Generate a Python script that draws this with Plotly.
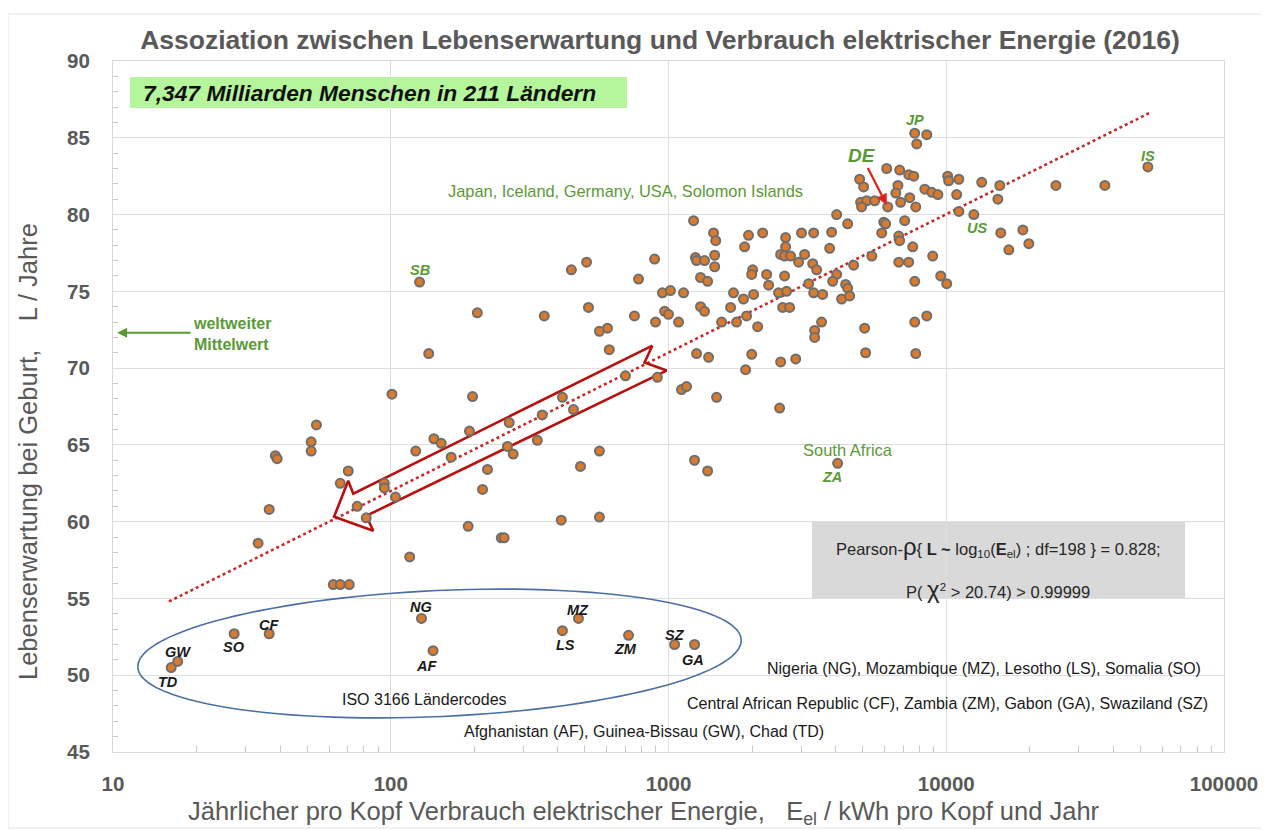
import numpy as np
import plotly.graph_objects as go

# ---------------- data ----------------
africa_codes = ["TD", "GW", "SO", "CF", "NG", "AF", "LS", "MZ", "ZM", "SZ", "GA"]
africa_energy = [16.2, 17.1, 27.3, 36.5, 129, 142, 415, 474, 718, 1052, 1241]
africa_life = [50.5, 50.9, 52.7, 52.7, 53.7, 51.6, 52.9, 53.7, 52.6, 52.0, 52.0]

highlight_codes = ["JP", "IS", "US", "SB", "ZA", "DE"]
highlight_energy = [7700, 53200, 12570, 127, 4064, 6154]
highlight_life = [85.3, 83.1, 80.0, 75.6, 63.8, 80.5]

other_energy = [
    8511, 7830, 6104, 6795, 7326, 7638, 4877, 5041, 6698, 6583,
    10120, 10200, 11100, 13420, 15590, 15340, 24820, 37250, 8371, 8868,
    9332, 10900, 4917, 5168, 5524, 4957, 6852, 7386, 7766, 11100,
    4031, 4416, 5955, 6053, 7085, 5858, 6746, 6795, 7574, 8940,
    15710, 18870, 19830, 16800, 1231, 1453, 1479, 1941, 2183, 2640,
    3013, 3331, 3866, 1879, 2640, 3804, 891, 1250, 1262, 1348,
    1466, 1466, 2534, 2618, 2752, 3091, 2941, 5396, 6746, 7326,
    4641, 3306, 3415, 2009, 1993, 2256, 2618, 4031, 3899, 780,
    1304, 1383, 2294, 3197, 4343, 4416, 9552, 10040, 7701, 951,
    1016, 1133, 1714, 1862, 2025, 2490, 2662, 3331, 3589, 4201,
    4489, 754, 898, 968, 1000, 1087, 1304, 1348, 1673, 1910,
    1758, 1553, 2094, 2577, 2729, 3359, 3359, 3557, 5083, 7701,
    8511, 603, 564, 612, 1262, 1394, 1993, 1895, 2534, 2871,
    5125, 7766, 700, 912, 1114, 1161, 1490, 2512, 447, 507,
    205, 357, 515, 137, 101, 197, 415, 351, 455, 267,
    192, 143, 152, 337, 123, 165, 54, 51.7, 51.7, 38.4,
    39.0, 263, 276, 223, 214, 564, 482, 70.3, 65.8, 94.8,
    94.8, 104, 75.7, 81.6, 36.5, 33.3, 190, 250, 256, 411,
    564, 117, 62.1, 65.8, 70.9, 1241, 1383,
]
other_life = [
    85.2, 84.6, 83.0, 82.9, 82.6, 82.5, 82.3, 81.8, 81.9, 81.4,
    82.5, 82.2, 82.3, 82.1, 81.9, 81.0, 81.9, 81.9, 81.65, 81.45,
    81.3, 81.3, 80.8, 80.9, 80.9, 80.5, 80.8, 81.1, 80.5, 80.2,
    80.0, 79.4, 79.5, 79.4, 79.6, 78.8, 78.6, 78.3, 77.9, 77.3,
    78.8, 79.0, 78.1, 77.7, 79.6, 78.8, 78.3, 78.65, 78.8, 78.5,
    78.8, 78.8, 78.85, 77.9, 77.9, 77.8, 77.1, 77.2, 77.0, 77.0,
    77.35, 76.6, 77.4, 77.3, 77.3, 77.4, 76.9, 77.3, 76.9, 76.9,
    76.7, 76.8, 76.4, 76.4, 76.1, 76.1, 76.0, 76.1, 75.65, 75.8,
    75.9, 75.65, 75.4, 75.5, 75.45, 75.2, 76.0, 75.5, 75.65, 74.9,
    75.05, 74.9, 74.9, 74.5, 74.8, 74.9, 75.0, 74.9, 74.8, 74.5,
    74.7, 73.4, 73.0, 73.7, 73.5, 73.0, 74.0, 73.7, 73.95, 73.4,
    73.0, 73.0, 72.7, 73.95, 73.95, 72.45, 72.0, 73.0, 72.6, 73.0,
    73.4, 72.6, 72.4, 71.2, 70.95, 70.7, 70.9, 69.9, 70.4, 70.6,
    71.0, 70.95, 69.5, 69.4, 68.6, 68.8, 68.1, 67.4, 76.4, 76.9,
    73.6, 73.4, 73.95, 70.95, 68.3, 68.15, 68.1, 66.95, 67.3, 66.45,
    65.9, 65.4, 65.1, 65.3, 64.6, 64.2, 66.3, 65.2, 64.6, 64.3,
    64.1, 64.9, 64.4, 63.4, 62.1, 64.6, 63.6, 63.3, 62.5, 62.5,
    62.2, 61.6, 61.0, 60.25, 60.8, 58.6, 59.7, 58.95, 58.95, 60.1,
    60.3, 57.7, 55.9, 55.9, 55.9, 64.0, 63.3,
]

trend_energy = [15.9, 53700]
trend_life = [54.8, 86.6]

arrow_energy = [875, 73.3, 70.3, 62.5, 86.5, 81.6, 984, 820, 875]
arrow_life = [71.47, 61.82, 62.67, 60.32, 59.41, 60.38, 69.84, 70.37, 71.47]

world_mean_life = 72.3

x_tickvals = [10, 100, 1000, 10000, 100000]
x_ticktext = ["10", "100", "1000", "10000", "100000"]

# ---------------- style ----------------
GREEN = "#5a9a36"
GRAY_TXT = "#595959"
FONT = "Liberation Sans, Arial, sans-serif"
X_LOG_RANGE = [1, 5]
Y_RANGE = [45, 90]
# plot rectangle in reference pixel coordinates
PLOT_L, PLOT_R, PLOT_T, PLOT_B = 113, 1224, 61, 752
BODY = 8  # browser default body margin
FIG_W, FIG_H = 1269 - BODY, 830 - BODY


def px_to_paper(px, py):
    return ((px - PLOT_L) / (PLOT_R - PLOT_L), (PLOT_B - py) / (PLOT_B - PLOT_T))


africa_shift = {"TD": (-3, -14), "GW": (0, 9), "SO": (0, -13), "CF": (0, 9),
                "NG": (0, 11), "AF": (-7, -15), "LS": (3, -14), "MZ": (0, 8),
                "ZM": (-3, -14), "SZ": (0, 10), "GA": (-2, -15)}
highlight_shift = {"JP": (0, 13), "IS": (0, 11), "US": (3, -13), "SB": (0, 12), "ZA": (-6, -14)}

all_energy = africa_energy + highlight_energy + other_energy
all_life = africa_life + highlight_life + other_life

fig = go.Figure()

fig.add_trace(go.Scatter(
    x=trend_energy, y=trend_life, mode="lines",
    line=dict(color="#c62a2a", width=2.6, dash="dot"),
    hoverinfo="skip", showlegend=False))

fig.add_trace(go.Scatter(
    x=arrow_energy, y=arrow_life, mode="lines",
    line=dict(color="#b80f0f", width=2.6),
    hoverinfo="skip", showlegend=False))

fig.add_trace(go.Scatter(
    x=all_energy, y=all_life, mode="markers",
    marker=dict(size=9, color="#d97a2c", line=dict(color="#6e6e6e", width=2)),
    showlegend=False))

annotations = []
for c, e, l in zip(africa_codes, africa_energy, africa_life):
    dx, dy = africa_shift[c]
    annotations.append(dict(x=np.log10(e), y=l, xref="x", yref="y", text=f"<b><i>{c}</i></b>",
                            showarrow=False, xshift=dx, yshift=dy,
                            font=dict(family=FONT, size=14.5, color="#1a1a1a")))
for c, e, l in zip(highlight_codes, highlight_energy, highlight_life):
    if c == "DE":
        annotations.append(dict(x=np.log10(e), y=l, xref="x", yref="y", text="<b><i>DE</i></b>",
                                showarrow=True, arrowhead=2, arrowsize=1, arrowwidth=2.2,
                                arrowcolor="#e0201a", ax=-26, ay=-51, standoff=2,
                                font=dict(family=FONT, size=19, color=GREEN)))
        continue
    dx, dy = highlight_shift[c]
    annotations.append(dict(x=np.log10(e), y=l, xref="x", yref="y", text=f"<b><i>{c}</i></b>",
                            showarrow=False, xshift=dx, yshift=dy,
                            font=dict(family=FONT, size=14.5, color=GREEN)))

# South Africa label
za_e, za_l = highlight_energy[4], highlight_life[4]
annotations.append(dict(x=np.log10(za_e), y=za_l, xref="x", yref="y", text="South Africa",
                        showarrow=False, xshift=10, yshift=13,
                        font=dict(family=FONT, size=16.5, color=GREEN)))


def add_text(px, py, text, size=14, color="#1a1a1a", xanchor="center", **kw):
    xp, yp = px_to_paper(px, py)
    annotations.append(dict(x=xp, y=yp, xref="paper", yref="paper", text=text,
                            showarrow=False, xanchor=xanchor, yanchor="middle",
                            font=dict(family=FONT, size=size, color=color), **kw))


add_text(625, 191, "Japan, Iceland, Germany, USA, Solomon Islands", size=16.4, color=GREEN)
add_text(424, 699, "ISO 3166 Ländercodes", size=16)
add_text(1203, 668, "Nigeria (NG), Mozambique (MZ), Lesotho (LS), Somalia (SO)", size=16, xanchor="right")
add_text(1210, 703, "Central African Republic (CF), Zambia (ZM), Gabon (GA), Swaziland (SZ)", size=16, xanchor="right")
add_text(462, 731, "Afghanistan (AF), Guinea-Bissau (GW), Chad (TD)", size=16, xanchor="left")
add_text(998, 546, "Pearson-<span style='font-size:24px'>ρ</span>{ <b>L ~ </b>log<sub>10</sub>(<b>E</b><sub>el</sub>) ; df=198 } = 0.828;",
         size=16.5, color="#262626")
add_text(998, 589, "P( <span style='font-size:24px'>χ</span><sup>2</sup> > 20.74) > 0.99999", size=16.5, color="#262626")
add_text(191, 334, "<b>weltweiter<br>Mittelwert</b>", size=16, color=GREEN, xanchor="left", align="left")
add_text(141, 93, "<b><i>7,347 Milliarden Menschen in 211 Ländern</i></b>", size=22.8, color="#111111",
         xanchor="left")

# axis titles (placed as in the reference)
add_text(186, 813, "Jährlicher pro Kopf Verbrauch elektrischer Energie," + "\u00a0" * 3
         + "E<sub>el</sub> / kWh pro Kopf und Jahr", size=25.5, color=GRAY_TXT, xanchor="left")
yt_x, yt_y = px_to_paper(28, 452)
annotations.append(dict(x=yt_x, y=yt_y, xref="paper", yref="paper",
                        text="Lebenserwartung bei Geburt," + "\u00a0" * 4 + "L / Jahre",
                        textangle=-90, showarrow=False, xanchor="center", yanchor="middle",
                        font=dict(family=FONT, size=25.5, color=GRAY_TXT)))

# world mean arrow
annotations.append(dict(x=np.log10(10.35), y=world_mean_life, xref="x", yref="y", text="",
                        showarrow=True, arrowhead=2, arrowsize=1, arrowwidth=2,
                        arrowcolor=GREEN, ax=75, ay=0))

shapes = []
# green headline box
gx0, gy0 = px_to_paper(130, 108)
gx1, gy1 = px_to_paper(627, 77)
shapes.append(dict(type="rect", xref="paper", yref="paper", x0=gx0, y0=gy0, x1=gx1, y1=gy1,
                   fillcolor="#b5f59c", line=dict(width=0), layer="below"))
# grey statistics box
x0, y0 = px_to_paper(812, 598)
x1, y1 = px_to_paper(1185, 521)
shapes.append(dict(type="rect", xref="paper", yref="paper", x0=x0, y0=y0, x1=x1, y1=y1,
                   fillcolor="#d9d9d9", line=dict(width=0), layer="below"))
# slightly tilted ellipse round the low-consumption countries
cx, cy, ea, eb, th = 439.5, 653.5, 302, 63, np.deg2rad(-2.6)
tt = np.linspace(0, 2 * np.pi, 121)
ex = cx + ea * np.cos(tt) * np.cos(th) - eb * np.sin(tt) * np.sin(th)
ey = cy + ea * np.cos(tt) * np.sin(th) + eb * np.sin(tt) * np.cos(th)
pts = [px_to_paper(a, b) for a, b in zip(ex, ey)]
path = "M " + " L ".join(f"{a:.5f},{b:.5f}" for a, b in pts) + " Z"
shapes.append(dict(type="path", xref="paper", yref="paper", path=path,
                   line=dict(color="#4a6fa5", width=1.6)))
# faint chart-area frame
bx0, by0 = px_to_paper(8, 828)
bx1, by1 = px_to_paper(1262, 14)
shapes.append(dict(type="rect", xref="paper", yref="paper", x0=bx0, y0=by0, x1=bx1, y1=by1,
                   line=dict(color="#e3e3e3", width=1)))

minor_x = [m * 10 ** d for d in range(1, 5) for m in range(2, 10)]

fig.update_layout(
    width=FIG_W, height=FIG_H,
    margin=dict(l=PLOT_L - BODY, r=1269 - PLOT_R, t=PLOT_T - BODY, b=830 - PLOT_B, autoexpand=False),
    paper_bgcolor="white", plot_bgcolor="white",
    title=dict(text="<b>Assoziation zwischen Lebenserwartung und Verbrauch elektrischer Energie (2016)</b>",
               x=(660 - BODY) / FIG_W, xanchor="center", y=1 - (40 - BODY) / FIG_H, yanchor="middle",
               font=dict(family=FONT, size=26.5, color=GRAY_TXT)),
    annotations=annotations, shapes=shapes,
    font=dict(family=FONT),
)

fig.update_xaxes(
    type="log", range=X_LOG_RANGE,
    tickvals=x_tickvals, ticktext=x_ticktext,
    tickfont=dict(family=FONT, size=20.5, color=GRAY_TXT, weight="bold"),
    ticks="", ticklabelstandoff=13,
    showgrid=True, gridcolor="#dedede", gridwidth=1,
    showline=True, linecolor="#d9d9d9", linewidth=1, mirror=True,
    zeroline=False,
    minor=dict(tickvals=minor_x, ticks="inside", ticklen=6, tickcolor="#c8c8c8", showgrid=False),
)
fig.update_yaxes(
    range=Y_RANGE, dtick=5, tick0=45,
    tickfont=dict(family=FONT, size=20.5, color=GRAY_TXT, weight="bold"),
    ticks="", ticklabelstandoff=18,
    showgrid=True, gridcolor="#dedede", gridwidth=1,
    showline=True, linecolor="#d9d9d9", linewidth=1, mirror=True,
    zeroline=False,
    minor=dict(dtick=1, ticks="inside", ticklen=5, tickcolor="#c8c8c8", showgrid=False),
)

fig.write_html("out.html")
